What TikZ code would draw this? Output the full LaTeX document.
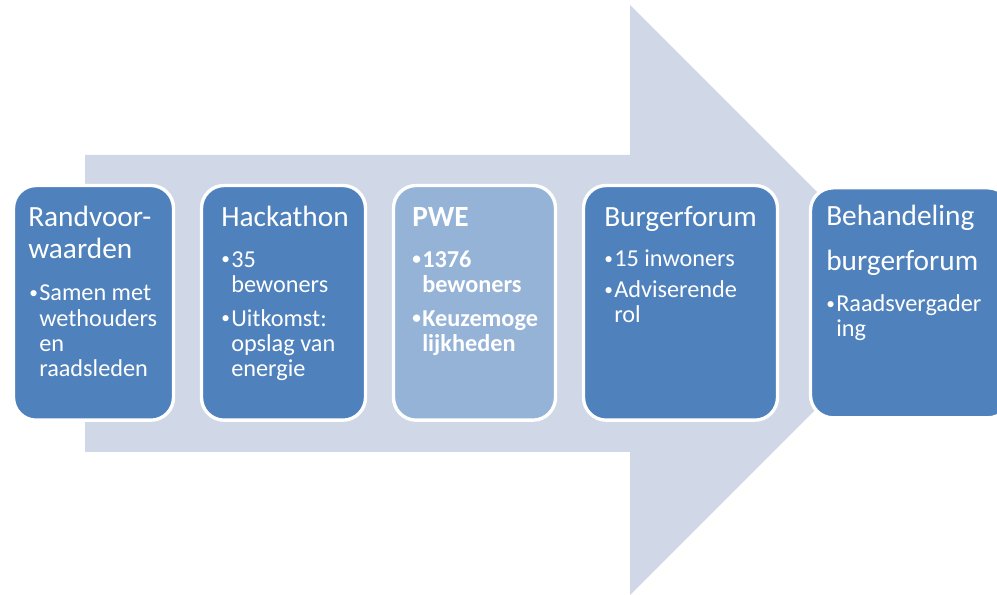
\documentclass[tikz,border=0pt]{standalone}
\usepackage{fontspec}
\setmainfont{Carlito}
\usetikzlibrary{positioning}
\definecolor{boxblue}{HTML}{4F81BD}
\definecolor{pweblue}{HTML}{95B3D7}
\definecolor{arrowgrey}{HTML}{D0D8E8}
\newcommand{\itm}{\makebox[7.5pt][l]{\raisebox{1.6pt}{\fontsize{13}{13}\selectfont\textbullet}}}
\newcommand{\ind}{\hspace*{7.5pt}}
\tikzset{stapbox/.style={rectangle, rounded corners=17pt, draw=white, line width=2.5pt, fill=boxblue, minimum height=176pt, inner sep=0pt, outer sep=0pt, anchor=north west},
  titel/.style={text=white, anchor=base west, inner sep=0pt, align=left, font=\fontsize{22}{24}\selectfont},
  punten/.style={text=white, anchor=base west, inner sep=0pt, align=left, font=\fontsize{18.2}{19.1}\selectfont}}

\begin{document}
\begin{tikzpicture}[x=0.75pt,y=-0.75pt]
  \clip (0,0) rectangle (997,595);
  % grote pijl
  \fill[arrowgrey] (85,155) -- (630,155) -- (630,5) -- (925,300) -- (630,595) -- (630,452) -- (85,452) -- cycle;
  % stappen
  \node[stapbox, minimum width=120pt] (rand) at (13.5,185.5) {};
  \node[stapbox, minimum width=123pt, right=21pt of rand] (hack) {};
  \node[stapbox, minimum width=121.5pt, fill=pweblue, right=21pt of hack] (pwe) {};
  \node[stapbox, minimum width=145.5pt, right=21pt of pwe] (burger) {};
  \node[stapbox, minimum width=150pt, minimum height=172.5pt, right=24.75pt of burger] (behandel) {};
  % titels (base = laatste regel)
  \node[titel] (t-rand) at ([shift={(14.5,73.5)}]rand.north west) {Randvoor-\\waarden};
  \node[titel] (t-hack) at ([shift={(19.5,41.5)}]hack.north west) {Hackathon};
  \node[titel, font=\fontsize{22}{24}\selectfont\bfseries] (t-pwe) at ([shift={(18.5,41.5)}]pwe.north west) {PWE};
  \node[titel] (t-burger) at ([shift={(20.5,41.5)}]burger.north west) {Burgerforum};
  \node[titel] (t-behandel) at ([shift={(15.5,82.5)}]behandel.north west) {Behandeling\\[9.75pt]burgerforum};
  % punten
  \node[punten] (p-rand) at ([shift={(1,118)}]t-rand.base west) {\itm Samen met\\ \ind wethouders\\ \ind en\\ \ind raadsleden};
  \node[punten] (p-hack) at ([shift={(0,150)}]t-hack.base west) {\itm 35\\ \ind bewoners\\[6pt] \itm Uitkomst:\\ \ind opslag van\\ \ind energie};
  \node[punten, font=\fontsize{18.2}{19.1}\selectfont\bfseries] (p-pwe) at ([shift={(0,124.5)}]t-pwe.base west) {\itm 1376\\ \ind bewoners\\[6pt] \itm Keuzemoge\\ \ind lijkheden};
  \node[punten] (p-burger) at ([shift={(0,96)}]t-burger.base west) {\itm 15 inwoners\\[4pt] \itm Adviserende\\ \ind rol};
  \node[punten] (p-behandel) at ([shift={(0,66.5)}]t-behandel.base west) {\itm Raadsvergader\\ \ind ing};
\end{tikzpicture}
\end{document}
